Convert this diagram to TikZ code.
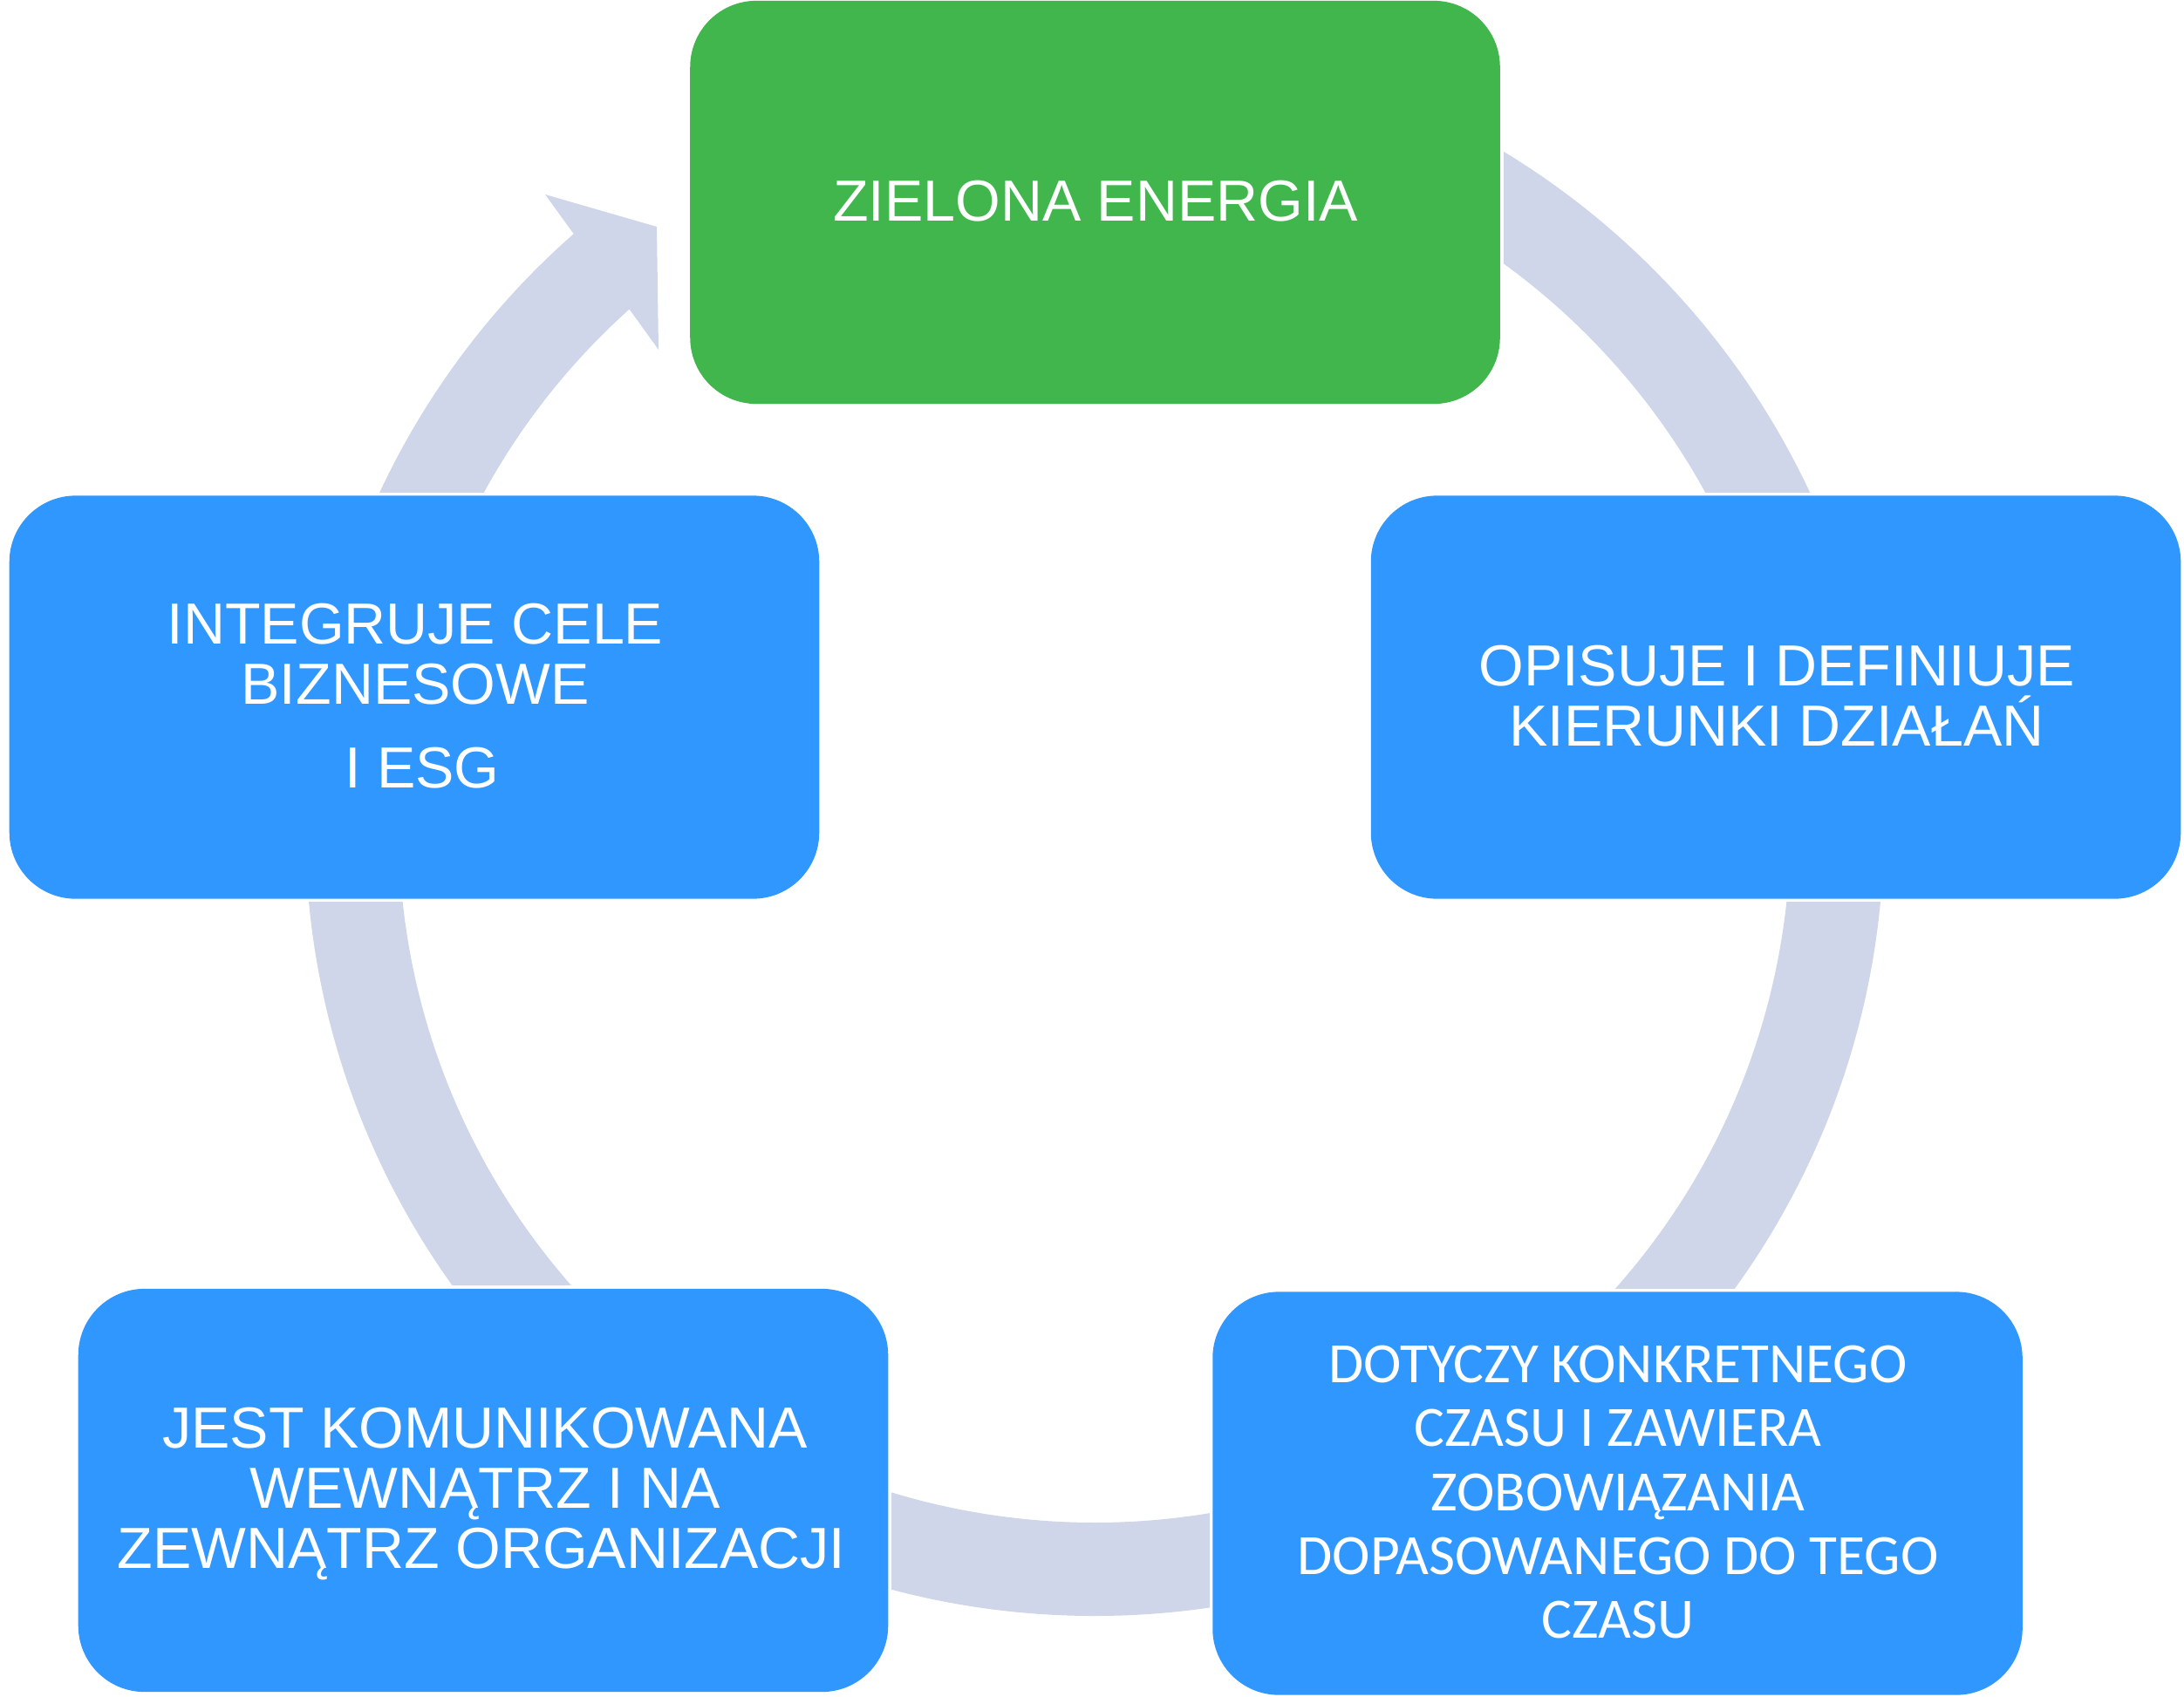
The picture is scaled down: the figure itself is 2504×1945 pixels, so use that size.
\documentclass[tikz,border=0pt]{standalone}
\usepackage{fontspec}
\setmainfont{Liberation Sans}
\newfontfamily\calfont{Carlito}
\usetikzlibrary{calc}
\definecolor{ringc}{HTML}{D0D6EA}
\definecolor{greenc}{HTML}{41B64C}
\definecolor{bluec}{HTML}{3097FF}
\begin{document}
\begin{tikzpicture}[x=0.01cm,y=-0.01cm,
  box/.style={rectangle, rounded corners=0.76cm, minimum width=9.28cm, minimum height=4.62cm, inner sep=0pt},
  greenbox/.style={box, fill=greenc},
  bluebox/.style={box, fill=bluec},
  lab/.style={anchor=base, text=white, inner sep=0pt, font=\fontsize{18.9pt}{19.6pt}\selectfont},
  clab/.style={anchor=base, text=white, inner sep=0pt, font=\calfont\fontsize{18.6pt}{20.8pt}\selectfont},
  cutter/.style={fill=white}]
\useasboundingbox (0,0) rectangle (2504,1945);
\coordinate (C) at (1255,948);
% ring with arrowhead
\fill[ringc] (C) ++(-90:905) arc[start angle=-90,end angle=228.7,radius=905]
  -- (625,223) -- (753,260) -- (755,401) -- ($(C)+(228.05:798)$)
  arc[start angle=228.05,end angle=-90,radius=798] -- cycle;
% boxes
\node[greenbox] (g) at (1255.5,232) {};
\node[bluebox] (r) at (2036,799.5) {};
\node[bluebox] (l) at (475,799.5) {};
\node[bluebox] (bl) at (554,1709) {};
\node[bluebox] (br) at (1854.5,1712.5) {};
% cutters (white gaps round boxes)
\foreach \b in {g,r,l,bl,br}{
  \fill[cutter] ($(\b.south west)+(-3,3)$) rectangle ($(\b.north east)+(3,-3)$);
}
\node[greenbox] at (g) {};
\node[bluebox] at (r) {};
\node[bluebox] at (l) {};
\node[bluebox] at (bl) {};
\node[bluebox] at (br) {};
% texts
\node[lab] (g1) at (1256,253) {ZIELONA ENERGIA};
\node[lab] (r1) at (2037,786) {OPISUJE I DEFINIUJE};
\node[lab] (r2) at (2037,855) {KIERUNKI DZIAŁAŃ};
\node[lab] (l1) at (476,738) {INTEGRUJE CELE};
\node[lab] (l2) at (476,807) {BIZNESOWE};
\node[lab] (l3) at (484,903) {I ESG};
\node[lab] (bl1) at (556,1660) {JEST KOMUNIKOWANA};
\node[lab] (bl2) at (556,1729) {WEWNĄTRZ I NA};
\node[lab] (bl3) at (552,1798) {ZEWNĄTRZ ORGANIZACJI};
\node[clab] (br1) at (1855,1585) {DOTYCZY KONKRETNEGO};
\node[clab] (br2) at (1855,1658) {CZASU I ZAWIERA};
\node[clab] (br3) at (1855,1732) {ZOBOWIĄZANIA};
\node[clab] (br4) at (1855,1805) {DOPASOWANEGO DO TEGO};
\node[clab] (br5) at (1855,1878) {CZASU};
\end{tikzpicture}
\end{document}
